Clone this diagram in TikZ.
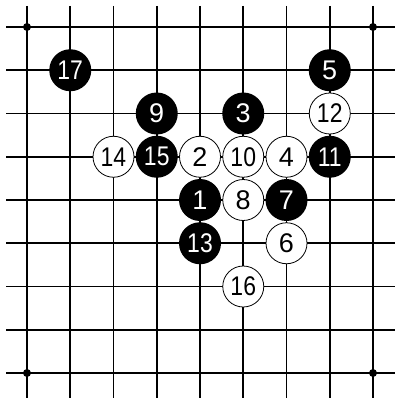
\documentclass[tikz,border=0pt]{standalone}
\usepackage{fontspec}
\setmainfont{Liberation Sans}
\newcommand\tw[1]{\scalebox{0.85}[1]{#1}}
\begin{document}
\begin{tikzpicture}[x=43.25pt,y=-43.25pt,
  stonefont/.style={font=\fontsize{27}{27}\selectfont},
  blk/.style={circle,fill=black,text=white,minimum size=42pt,inner sep=0pt,stonefont},
  wht/.style={circle,draw=black,line width=0.8pt,fill=white,text=black,minimum size=41pt,inner sep=0pt,stonefont},
  gridline/.style={line width=1.6pt},
  hoshi/.style={circle,fill=black,minimum size=8pt,inner sep=0pt}]
\useasboundingbox (-0.6243,-0.6243) rectangle (8.4855,8.578);
\foreach \i in {0,...,8} {
  \draw[gridline] (\i,-0.4855) -- (\i,8.6);
  \draw[gridline] (-0.4855,\i) -- (8.5,\i);
}
\node[hoshi] (h1) at (0,0) {};
\node[hoshi] (h2) at (8,0) {};
\node[hoshi] (h3) at (0,8) {};
\node[hoshi] (h4) at (8,8) {};
\node[blk] (s17) at (1,1) {\tw{17}};
\node[blk] (s5) at (7,1) {5};
\node[blk] (s9) at (3,2) {9};
\node[blk] (s3) at (5,2) {3};
\node[wht] (s12) at (7,2) {\tw{12}};
\node[wht] (s14) at (2,3) {\tw{14}};
\node[blk] (s15) at (3,3) {\tw{15}};
\node[wht] (s2) at (4,3) {2};
\node[wht] (s10) at (5,3) {\tw{10}};
\node[wht] (s4) at (6,3) {4};
\node[blk] (s11) at (7,3) {\tw{11}};
\node[blk] (s1) at (4,4) {1};
\node[wht] (s8) at (5,4) {8};
\node[blk] (s7) at (6,4) {7};
\node[blk] (s13) at (4,5) {\tw{13}};
\node[wht] (s6) at (6,5) {6};
\node[wht] (s16) at (5,6) {\tw{16}};
\end{tikzpicture}
\end{document}
